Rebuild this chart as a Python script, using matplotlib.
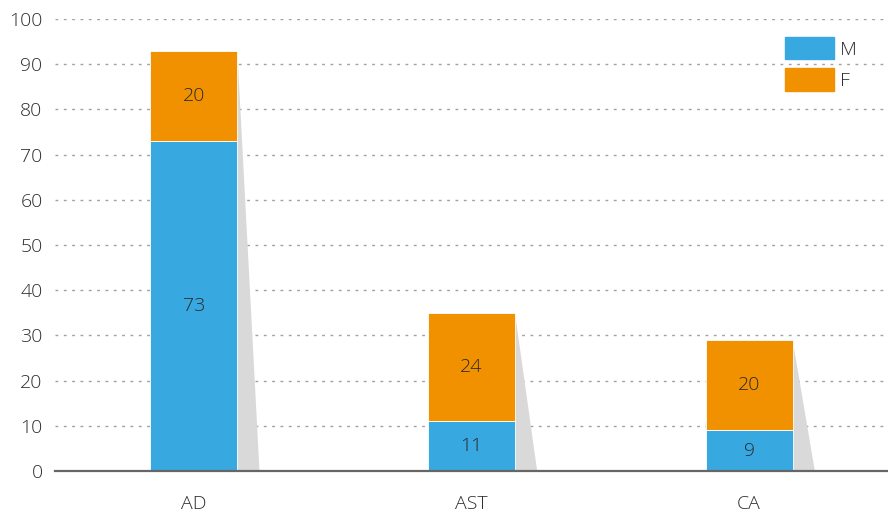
import matplotlib.pyplot as plt
from matplotlib.patches import Polygon, Patch

categories = ['AD', 'AST', 'CA']
male = [73, 11, 9]
female = [20, 24, 20]

blue = '#38a8e0'
orange = '#f29100'
shadow = '#d9d9d9'

plt.rcParams['font.family'] = ['Open Sans', 'DejaVu Sans']
plt.rcParams['font.weight'] = 'light'

fig = plt.figure(figsize=(8.88, 5.14), dpi=100)
ax = fig.add_axes([55 / 888, 43 / 514, 833 / 888, 452 / 514])

x = list(range(len(categories)))
w = 0.313
totals = [m + f for m, f in zip(male, female)]

# shadows behind bars
for xi, t in zip(x, totals):
    right = xi + w / 2
    ax.add_patch(Polygon([(right, t), (right + 0.08, 0), (right, 0)],
                         closed=True, facecolor=shadow, edgecolor='none', zorder=1))

ax.bar(x, male, w, color=blue, edgecolor='white', linewidth=0.6, zorder=2)
ax.bar(x, female, w, bottom=male, color=orange, edgecolor='white', linewidth=0.6, zorder=2)

for xi, m, f in zip(x, male, female):
    ax.text(xi, m / 2, str(m), ha='center', va='center', fontsize=14, color='#2a2a2a', zorder=3)
    ax.text(xi, m + f / 2, str(f), ha='center', va='center', fontsize=14, color='#2a2a2a', zorder=3)

ax.set_xlim(-0.5, 2.5)
ax.set_ylim(0, 100)
ax.set_yticks(range(0, 101, 10))
ax.set_xticks(x)
ax.set_xticklabels(categories)
ax.yaxis.grid(True, linestyle=(0, (2, 4)), color='#a0a0a0', linewidth=1)
ax.set_axisbelow(True)
for s in ['top', 'right', 'left']:
    ax.spines[s].set_visible(False)
ax.spines['bottom'].set_color('#666666')
ax.spines['bottom'].set_linewidth(1.6)
ax.spines['bottom'].set_zorder(4)
ax.tick_params(axis='both', length=0, labelsize=14, labelcolor='#2e2e2e')
ax.tick_params(axis='y', pad=9)
ax.tick_params(axis='x', pad=17)

handles = [Patch(color=blue, label='M'), Patch(color=orange, label='F')]
ax.legend(handles=handles, loc='upper left', bbox_to_anchor=(730 / 833, 1.0 - 18 / 452),
          frameon=False, fontsize=14, handlelength=2.5, handleheight=1.4,
          labelspacing=0.45, handletextpad=0.35, borderaxespad=0.0, borderpad=0.0,
          labelcolor='#2e2e2e')

fig.savefig('out.png', dpi=100, facecolor='white')
